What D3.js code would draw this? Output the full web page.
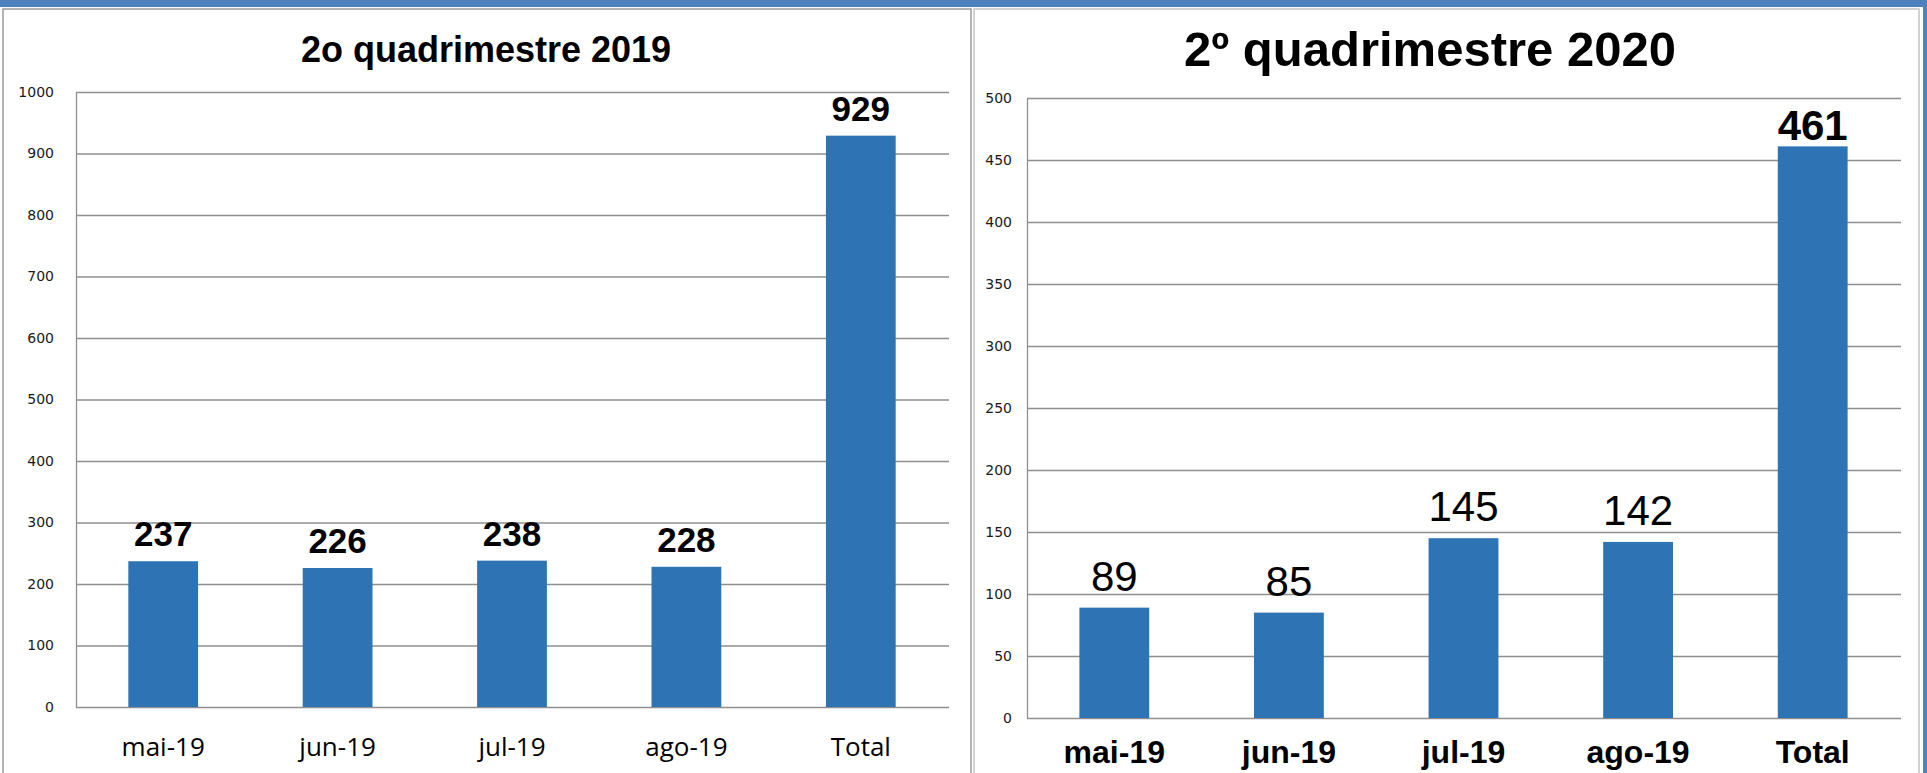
<!DOCTYPE html>
<html>
<head>
<meta charset="utf-8">
<script src="https://cdn.jsdelivr.net/npm/d3@7/dist/d3.min.js"></script>
<style>
  body { margin: 0; background: #ffffff; }
</style>
</head>
<body>
<div id="body"></div>
<script>
// chart data
var categories = ['mai-19', 'jun-19', 'jul-19', 'ago-19', 'Total'];
var values2019 = [237, 226, 238, 228, 929];
var values2020 = [89, 85, 145, 142, 461];
var ticks2019 = [0, 100, 200, 300, 400, 500, 600, 700, 800, 900, 1000];
var ticks2020 = [0, 50, 100, 150, 200, 250, 300, 350, 400, 450, 500];
var title2019 = '2o quadrimestre 2019';
var title2020 = '2º quadrimestre 2020';

var width = 1927;
var height = 773;
var barColor = '#2e74b5';
var gridColor = '#8f8f8f';
var arial = '"Liberation Sans", Arial, sans-serif';

// Make the canvas
function makeCanvas () {
  console.log('making canvas...');

  var svg = d3.select('#body')
    .append('svg')
    .attr('width', width)
    .attr('height', height)
    .style('display', 'block')
    .style('background', '#ffffff');

  // blue band along the top
  svg.append('rect')
    .attr('x', 0).attr('y', 0)
    .attr('width', width).attr('height', 7)
    .style('fill', '#4f81bd');

  // thin strip on the right edge
  svg.append('rect')
    .attr('x', 1923).attr('y', 0)
    .attr('width', 4).attr('height', height)
    .style('fill', '#4f81bd');

  return svg;
}

// Make one chart panel
function makePanel (svg, o) {
  console.log('making panel ' + o.title + '...');

  // panel border
  svg.append('rect')
    .attr('x', o.box[0]).attr('y', o.box[1])
    .attr('width', o.box[2] - o.box[0]).attr('height', height)
    .style('fill', 'none')
    .style('stroke', o.boxColor)
    .style('stroke-width', 1.5);

  // title
  svg.append('text')
    .text(o.title)
    .attr('x', o.titleX)
    .attr('y', o.titleY)
    .attr('text-anchor', 'middle')
    .style('font-family', arial)
    .style('font-weight', 'bold')
    .style('font-size', o.titleSize + 'px')
    .style('fill', '#000');

  var x = d3.scaleBand()
    .domain(categories)
    .range([o.left, o.right])
    .paddingInner(0.6)
    .paddingOuter(0.3);

  var y = d3.scaleLinear()
    .domain([o.ticks[0], o.ticks[o.ticks.length - 1]])
    .range([o.bottom, o.top]);

  // y axis with gridlines
  var yAxis = svg.append('g')
    .attr('transform', 'translate(' + o.left + ',0)')
    .call(d3.axisLeft(y)
      .tickValues(o.ticks)
      .tickFormat(d3.format('d'))
      .tickSize(-(o.gridEnd - o.left))
      .tickSizeOuter(0)
      .tickPadding(o.tickPad));

  yAxis.select('.domain')
    .style('stroke', gridColor)
    .style('stroke-width', 1.3);
  yAxis.selectAll('.tick line')
    .style('stroke', gridColor)
    .style('stroke-width', 1.3);
  yAxis.selectAll('.tick text')
    .style('font-family', '"DejaVu Sans", Verdana, sans-serif')
    .style('font-size', '14px')
    .style('fill', '#1a1a1a');

  // bars
  svg.selectAll('.bar-' + o.id)
    .data(o.values)
    .enter()
    .append('rect')
    .attr('class', 'bar-' + o.id)
    .attr('x', function(d, i){ return x(categories[i]); })
    .attr('y', function(d){ return y(d); })
    .attr('width', x.bandwidth())
    .attr('height', function(d){ return o.bottom - y(d); })
    .style('fill', barColor);

  // value labels above the bars
  svg.selectAll('.val-' + o.id)
    .data(o.values)
    .enter()
    .append('text')
    .attr('class', 'val-' + o.id)
    .text(function(d){ return d; })
    .attr('x', function(d, i){ return x(categories[i]) + x.bandwidth() / 2; })
    .attr('y', function(d, i){
      var gap = (o.boldTotalOnly && categories[i] === 'Total') ? 6 : o.valueGap;
      return y(d) - gap;
    })
    .attr('text-anchor', 'middle')
    .style('font-family', arial)
    .style('font-size', o.valueSize + 'px')
    .style('font-weight', function(d, i){
      if (!o.boldTotalOnly) return 'bold';
      return categories[i] === 'Total' ? 'bold' : 'normal';
    })
    .style('fill', '#000');

  // category labels
  svg.selectAll('.cat-' + o.id)
    .data(categories)
    .enter()
    .append('text')
    .attr('class', 'cat-' + o.id)
    .text(function(d){ return d; })
    .attr('x', function(d){ return x(d) + x.bandwidth() / 2; })
    .attr('y', o.catY)
    .attr('text-anchor', 'middle')
    .style('font-family', o.catFont)
    .style('font-weight', o.catWeight)
    .style('font-size', o.catSize + 'px')
    .style('fill', '#000');
}

function buildCharts () {
  var svg = makeCanvas();

  makePanel(svg, {
    id: 'a', title: title2019, values: values2019, ticks: ticks2019,
    box: [3, 9, 971], boxColor: '#9a9a9a',
    titleX: 486, titleY: 62, titleSize: 36,
    left: 76, right: 948, gridEnd: 949, top: 92, bottom: 707,
    tickPad: 22, valueSize: 35, valueGap: 15, boldTotalOnly: false,
    catY: 756, catSize: 26, catWeight: 'normal', catFont: '"Open Sans", sans-serif'
  });

  makePanel(svg, {
    id: 'b', title: title2020, values: values2020, ticks: ticks2020,
    box: [974, 9, 1919], boxColor: '#c4c4c4',
    titleX: 1430, titleY: 66, titleSize: 49,
    left: 1027, right: 1900, gridEnd: 1901, top: 98, bottom: 718,
    tickPad: 15, valueSize: 42, valueGap: 17, boldTotalOnly: true,
    catY: 763, catSize: 32, catWeight: 'bold', catFont: arial
  });
}

buildCharts();
</script>
</body>
</html>
